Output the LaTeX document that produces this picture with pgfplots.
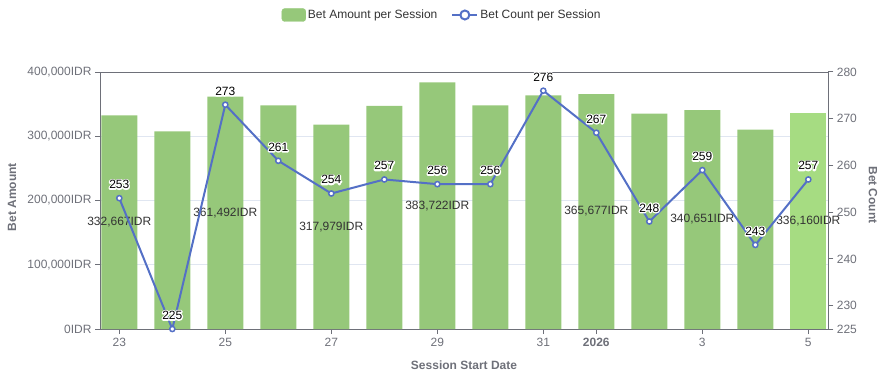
\documentclass[border=0pt]{standalone}
\usepackage{fontspec}
\setmainfont{Liberation Sans}
\usepackage{pgfplots}
\pgfplotsset{compat=1.18}
\definecolor{bargreen}{HTML}{96C87A}
\definecolor{barhl}{HTML}{A6DC82}
\definecolor{lineblue}{HTML}{5470C6}
\definecolor{axisgrey}{HTML}{6E7079}
\definecolor{gridc}{HTML}{E0E6F1}
\definecolor{txt}{HTML}{333333}
\newcommand\f{\fontsize{12bp}{14bp}\selectfont}
\newcommand\halo[1]{%
 \rlap{\special{pdf:literal direct q 1 Tr 2.6 w 1 j}\color{white}#1\special{pdf:literal direct Q}}%
 #1}
\pgfplotsset{/pgf/number format/assume math mode=true}
\begin{document}
\begin{tikzpicture}[x=1bp,y=1bp]
\useasboundingbox (0,0) rectangle (887,376);
\begin{axis}[
  at={(100bp,47bp)}, anchor=south west, scale only axis,
  width=728.3bp, height=257bp,
  xmin=-0.364, xmax=13.377, ymin=0, ymax=400000,
  scaled y ticks=false,
  axis line style={axisgrey, line width=1bp},
  xtick={0,2,4,6,8,9,11,13},
  xticklabels={23,25,27,29,31,\textbf{2026},3,5},
  ytick={0,100000,200000,300000,400000},
  yticklabels={0IDR,{100,000IDR},{200,000IDR},{300,000IDR},{400,000IDR}},
  xtick pos=lower, ytick pos=left, tick align=outside,
  major tick length=5bp,
  tick style={axisgrey, line width=1bp},
  xticklabel style={font=\f, text=axisgrey, yshift=-1bp},
  yticklabel style={font=\f, text=axisgrey, xshift=0bp},
  ymajorgrids, grid style={gridc, line width=1bp},
  xlabel={\textbf{Session Start Date}},
  ylabel={\textbf{Bet Amount}},
  every axis x label/.style={at={(rel axis cs:0.4998,-0.140)}, anchor=center, font=\f, text=axisgrey},
  every axis y label/.style={at={(rel axis cs:-0.1208,0.5136)}, rotate=90, anchor=center, font=\f, text=axisgrey},
]
\addplot[ybar, bar width=0.68, bar shift=0pt, fill=bargreen, draw=none] coordinates {
 (0,332667) (1,307700) (2,361492) (3,348100) (4,317979) (5,347100) (6,383722)
 (7,348100) (8,363700) (9,365677) (10,335100) (11,340651) (12,310200)};
\addplot[ybar, bar width=0.68, bar shift=0pt, fill=barhl, draw=none] coordinates {(13,336160)};
\addplot[draw=none, mark=none, nodes near coords, point meta=explicit symbolic,
  every node near coord/.append style={anchor=center, font=\f, text=txt, inner sep=0pt}]
  coordinates {
 (0,166333) [332,667IDR] (2,180746) [361,492IDR] (4,158990) [317,979IDR]
 (6,191861) [383,722IDR] (9,182839) [365,677IDR] (11,170326) [340,651IDR]
 (13,168080) [336,160IDR]};
\end{axis}
\begin{axis}[
  at={(100bp,47bp)}, anchor=south west, scale only axis,
  width=728.3bp, height=257bp,
  xmin=-0.364, xmax=13.377, ymin=225, ymax=280,
  axis x line=none, axis y line*=right,
  axis line style={axisgrey, line width=1bp},
  ytick={225,230,240,250,260,270,280},
  tick align=outside, major tick length=5bp,
  tick style={axisgrey, line width=1bp},
  yticklabel style={font=\f, text=axisgrey},
  ylabel={\textbf{Bet Count}},
  every axis y label/.style={at={(rel axis cs:1.0614,0.5214)}, rotate=-90, anchor=center, font=\f, text=axisgrey},
  legend style={at={(rel axis cs:0.4696,1.2218)}, anchor=center, draw=none, fill=none,
    font=\f, text=txt, legend columns=2,
    /tikz/every even column/.append style={column sep=12bp}},
  legend cell align=left,
]
\addlegendimage{legend image code/.code={\fill[bargreen, rounded corners=3bp] (0bp,-6.5bp) rectangle (24bp,6.5bp);}}
\addlegendentry{Bet Amount per Session}
\addplot[lineblue, line width=2bp, mark=*, mark size=2.6bp,
  mark options={fill=white, draw=lineblue, line width=1.5bp},
  point meta=y, nodes near coords={\halo{\pgfmathprintnumber{\pgfplotspointmeta}}},
  every node near coord/.append style={anchor=base, yshift=9.5bp, font=\f, text=black, inner sep=0pt},
  legend image code/.code={\draw[lineblue, line width=2bp] (0bp,0bp) -- (25bp,0bp);
    \draw[lineblue, line width=2bp, fill=white] (12.5bp,0bp) circle (4.5bp);}]
  coordinates {(0,253) (1,225) (2,273) (3,261) (4,254) (5,257) (6,256)
   (7,256) (8,276) (9,267) (10,248) (11,259) (12,243) (13,257)};
\addlegendentry{Bet Count per Session}
\end{axis}
\end{tikzpicture}
\end{document}
